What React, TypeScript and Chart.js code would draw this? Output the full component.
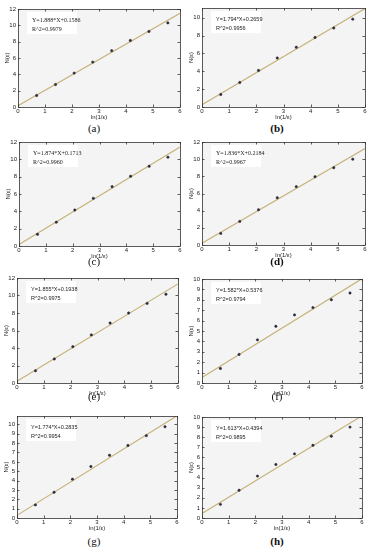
import React, { useEffect, useRef } from "react";
import { Chart, registerables } from "chart.js";

Chart.register(...registerables);

// ---- data ----
const xValues = [0.69, 1.39, 2.08, 2.77, 3.47, 4.16, 4.85, 5.55];
const panelLabels = ["(a)", "(b)", "(c)", "(d)", "(e)", "(f)", "(g)", "(h)"];
const yA = [1.4, 2.75, 4.15, 5.5, 6.9, 8.15, 9.25, 10.3];
const yB = [1.4, 2.75, 4.1, 5.5, 6.7, 7.8, 8.85, 9.85];
const yC = [1.35, 2.75, 4.15, 5.5, 6.85, 8.05, 9.2, 10.25];
const yD = [1.35, 2.75, 4.1, 5.5, 6.8, 7.95, 9.0, 10.0];
const yE = [1.4, 2.75, 4.15, 5.5, 6.85, 8.0, 9.1, 10.15];
const yF = [1.4, 2.75, 4.15, 5.45, 6.55, 7.25, 8.0, 8.65];
const yG = [1.4, 2.75, 4.15, 5.5, 6.7, 7.75, 8.8, 9.75];
const yH = [1.35, 2.75, 4.15, 5.3, 6.35, 7.2, 8.1, 9.0];
const seriesY = [yA, yB, yC, yD, yE, yF, yG, yH];
const slopes = [1.888, 1.794, 1.874, 1.836, 1.855, 1.582, 1.774, 1.613];
const intercepts = [0.1586, 0.2659, 0.1713, 0.2184, 0.1938, 0.5376, 0.2835, 0.4394];
const r2Values = ["0.9979", "0.9956", "0.9960", "0.9967", "0.9975", "0.9794", "0.9954", "0.9895"];
const yMaxes = [12, 11.1, 12, 12, 12, 10, 10.9, 10];
const ySteps = [2, 2, 2, 2, 2, 1, 1, 1];
const xMin = 0;
const xMax = 6;
const xTitle = "ln(1/ε)";
const yTitle = "N(ε)";

// ---- layout (plot-area boxes in page pixels: left, top, right, bottom) ----
const boxes = [
  [18, 9, 180, 107],
  [202, 8, 365, 107],
  [19, 142, 180, 246],
  [202, 142, 365, 245],
  [17, 278, 178, 383],
  [202, 279, 362, 383],
  [17, 416, 177, 518],
  [202, 417, 362, 518],
];
const labelPos = [
  [94, 128], [277, 128], [94, 261], [277, 261],
  [94, 396], [277, 396], [94, 541], [277, 541],
];
const boldLabels = [false, true, false, true, false, false, false, true];
const serifEq = [true, false, true, true, false, false, false, false];

const Y_AXIS_W = 14;
const X_AXIS_H = 14;
const PAD_T = 6;
const PAD_R = 6;

const framePlugin = {
  id: "frameTicks",
  beforeDatasetsDraw(chart: any) {
    const { ctx, chartArea: a } = chart;
    ctx.save();
    ctx.fillStyle = "#f4f4f4";
    ctx.fillRect(a.left, a.top, a.right - a.left, a.bottom - a.top);
    ctx.fillStyle = "#ffffff";
    ctx.fillRect(a.left + 9, a.top + 3, 50, 22);
    ctx.restore();
  },
  afterDatasetsDraw(chart: any, _args: any, opts: any) {
    const { ctx, chartArea: a, scales } = chart;
    ctx.save();
    ctx.strokeStyle = "#333";
    ctx.lineWidth = 0.8;
    ctx.strokeRect(a.left + 0.5, a.top + 0.5, a.right - a.left, a.bottom - a.top);
    const tl = 2.5;
    ctx.beginPath();
    scales.x.ticks.forEach((t: any) => {
      const px = Math.round(scales.x.getPixelForValue(t.value)) + 0.5;
      ctx.moveTo(px, a.bottom);
      ctx.lineTo(px, a.bottom - tl);
      ctx.moveTo(px, a.top);
      ctx.lineTo(px, a.top + tl);
    });
    scales.y.ticks.forEach((t: any) => {
      const py = Math.round(scales.y.getPixelForValue(t.value)) + 0.5;
      ctx.moveTo(a.left, py);
      ctx.lineTo(a.left + tl, py);
      ctx.moveTo(a.right, py);
      ctx.lineTo(a.right - tl, py);
    });
    ctx.stroke();
    // equation text
    ctx.fillStyle = "#222";
    ctx.font = opts.serif ? "6px 'Liberation Serif'" : "5.5px 'Liberation Sans'";
    ctx.textBaseline = "middle";
    ctx.textAlign = "left";
    ctx.fillText(opts.line1, a.left + 14, a.top + 11);
    ctx.fillText(opts.line2, a.left + 14, a.top + 20);
    ctx.restore();
  },
};

function Panel({ idx }: { idx: number }) {
  const ref = useRef<HTMLCanvasElement | null>(null);
  const [l, t, r, b] = boxes[idx];
  const W = r - l + Y_AXIS_W + PAD_R;
  const H = b - t + PAD_T + X_AXIS_H;

  useEffect(() => {
    if (!ref.current) return;
    const ys = seriesY[idx];
    const m = slopes[idx];
    const c = intercepts[idx];
    const step = ySteps[idx];
    const chart = new Chart(ref.current, {
      type: "scatter",
      data: {
        datasets: [
          {
            label: "data",
            data: xValues.map((x, i) => ({ x, y: ys[i] })),
            pointStyle: "circle",
            pointRadius: 1.2,
            backgroundColor: "#2b2b3c",
            borderColor: "#2b2b3c",
            borderWidth: 0.5,
            order: 0,
          },
          {
            label: "fit",
            data: [
              { x: xMin, y: m * xMin + c },
              { x: xMax, y: m * xMax + c },
            ],
            showLine: true,
            pointRadius: 0,
            borderColor: "#c6b47c",
            borderWidth: 1.2,
            order: 1,
          },
        ],
      },
      options: {
        animation: false,
        responsive: false,
        devicePixelRatio: 1,
        layout: { padding: { top: PAD_T, right: PAD_R, left: 0, bottom: 0 } },
        plugins: {
          legend: { display: false },
          tooltip: { enabled: false },
          frameTicks: {
            line1: `Y=${m.toFixed(3)}*X+${c.toFixed(4)}`,
            line2: `R^2=${r2Values[idx]}`,
            serif: serifEq[idx],
          },
        } as any,
        scales: {
          x: {
            type: "linear",
            min: xMin,
            max: xMax,
            grid: { display: false, drawTicks: false },
            border: { display: false },
            ticks: {
              stepSize: 1,
              padding: 1,
              maxRotation: 0,
              autoSkip: false,
              color: "#222",
              font: { size: 6, family: "'Liberation Sans'" },
            },
            title: {
              display: true,
              text: xTitle,
              color: "#222",
              padding: 0,
              font: { size: 6, family: "'Liberation Sans'" },
            },
            afterFit: (s: any) => {
              s.height = X_AXIS_H;
            },
          },
          y: {
            type: "linear",
            min: 0,
            max: yMaxes[idx],
            grid: { display: false, drawTicks: false },
            border: { display: false },
            ticks: {
              stepSize: step,
              padding: 2,
              autoSkip: false,
              color: "#222",
              font: { size: 6, family: "'Liberation Sans'" },
            },
            afterBuildTicks: (s: any) => {
              s.ticks = s.ticks.filter(
                (tk: any) => Math.abs(tk.value / step - Math.round(tk.value / step)) < 1e-6
              );
            },
            title: {
              display: true,
              text: yTitle,
              color: "#222",
              padding: 0,
              font: { size: 6, family: "'Liberation Sans'" },
            },
            afterFit: (s: any) => {
              s.width = Y_AXIS_W;
            },
          },
        },
      },
      plugins: [framePlugin],
    });
    return () => chart.destroy();
  }, [idx]);

  return (
    <canvas
      ref={ref}
      width={W}
      height={H}
      style={{ position: "absolute", left: l - Y_AXIS_W, top: t - PAD_T, width: W, height: H }}
    />
  );
}

export default function App() {
  return (
    <div
      style={{
        position: "fixed",
        left: 0,
        top: 0,
        width: 370,
        height: 550,
        background: "#ffffff",
        overflow: "hidden",
      }}
    >
      {panelLabels.map((_, i) => (
        <Panel key={i} idx={i} />
      ))}
      {panelLabels.map((lab, i) => (
        <div
          key={"l" + i}
          style={{
            position: "absolute",
            left: labelPos[i][0] - 20,
            top: labelPos[i][1] - 7,
            width: 40,
            textAlign: "center",
            fontFamily: "'Liberation Serif', serif",
            fontSize: 11,
            lineHeight: "14px",
            fontWeight: boldLabels[i] ? "bold" : "normal",
            color: "#111",
          }}
        >
          {lab}
        </div>
      ))}
    </div>
  );
}
